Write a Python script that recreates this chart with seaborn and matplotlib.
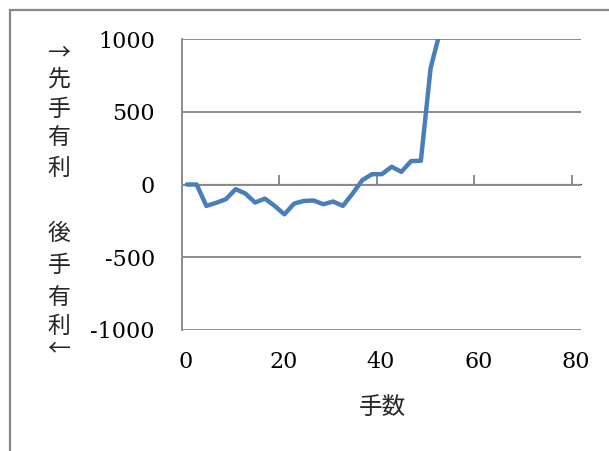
import matplotlib
matplotlib.use("Agg")
import matplotlib.pyplot as plt
import matplotlib.patches as mpatches
import matplotlib.transforms as mtransforms
import seaborn as sns
import pandas as pd

# Evaluation per move (positive = advantage for the first player)
moves = [1, 3, 5, 7, 9, 11, 13, 15, 17, 19, 21, 23, 25, 27, 29, 31, 33, 35,
         37, 39, 41, 43, 45, 47, 49, 51, 53]
evals = [0, 0, -147, -126, -101, -32, -62, -124, -97, -147, -205, -131, -113,
         -110, -136, -117, -147, -62, 30, 71, 71, 122, 87, 161, 163, 800, 1060]

x_ticks = [0, 20, 40, 60, 80]
y_ticks = [-1000, -500, 0, 500, 1000]
x_title = "手数"
upper_label = ["→", "先", "手", "有", "利"]
lower_label = ["後", "手", "有", "利", "←"]

sns.set_style("white")
plt.rcParams["font.family"] = ["DejaVu Serif"]
plt.rcParams["axes.unicode_minus"] = False

GRID = "#8c8c8c"
LINE = "#4a7ebb"
CJK = ["Noto Sans CJK JP", "DejaVu Sans"]

fig = plt.figure(figsize=(6.09, 4.51), dpi=100)
ax = fig.add_axes([182 / 609, 1 - 330 / 451, 399 / 609, 291 / 451])

df = pd.DataFrame({"move": moves, "eval": evals})
sns.lineplot(data=df, x="move", y="eval", ax=ax, color=LINE, linewidth=3.2,
             solid_joinstyle="round", solid_capstyle="round", clip_on=True)

ax.set_xlim(0, 81.85)
ax.set_ylim(-1000, 1000)
ax.set_yticks(y_ticks)
ax.set_xticks(x_ticks)
ax.set_xlabel("")
ax.set_ylabel("")

# horizontal gridlines
for v in y_ticks:
    ax.axhline(v, color=GRID, linewidth=1.4, zorder=0.5)

for side in ["top", "right", "bottom"]:
    ax.spines[side].set_visible(False)
ax.spines["left"].set_color(GRID)
ax.spines["left"].set_linewidth(1.4)

ax.tick_params(axis="y", direction="out", length=6.5, width=1.4, color=GRID,
               pad=13, labelsize=16, labelcolor="black")
ax.tick_params(axis="x", length=0, pad=15, labelsize=16, labelcolor="black")
offset = mtransforms.ScaledTranslation(4 / 100, 0, fig.dpi_scale_trans)
for lab in ax.get_xticklabels():
    lab.set_transform(lab.get_transform() + offset)

# tick marks on the zero line
sec = ax.secondary_xaxis(0.5)
sec.set_xticks(x_ticks)
sec.xaxis.set_ticklabels([])
sec.tick_params(axis="x", direction="out", length=6.5, width=1.4, color=GRID,
                labelbottom=False, labeltop=False)
sec.spines["bottom"].set_visible(False)

fig.text(382 / 609, 1 - 407 / 451, x_title, family=CJK, fontsize=17,
         ha="center", va="center")

upper_y = [53, 79, 109, 138, 168]
lower_y = [233, 266, 297, 326, 349]
for ch, yy in zip(upper_label, upper_y):
    fig.text(59 / 609, 1 - yy / 451, ch, family=CJK, fontsize=16.5,
             ha="center", va="center")
for ch, yy in zip(lower_label, lower_y):
    fig.text(59 / 609, 1 - yy / 451, ch, family=CJK, fontsize=16.5,
             ha="center", va="center")

# chart frame
frame = mpatches.Rectangle((10 / 609, -0.2), 1.2, 1.2 - 10 / 451,
                           transform=fig.transFigure, fill=False,
                           edgecolor="#888888", linewidth=1.6)
fig.patches.append(frame)

fig.savefig("out.png", dpi=100)
